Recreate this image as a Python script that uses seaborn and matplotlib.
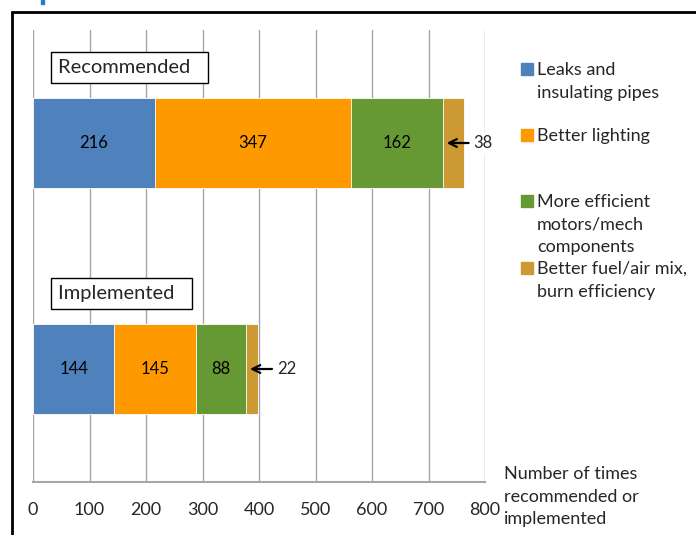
import pandas as pd
import matplotlib.pyplot as plt
import seaborn as sns
from matplotlib.lines import Line2D
from matplotlib.patches import Rectangle

# data
groups = ["Recommended", "Implemented"]
categories = ["Leaks and\ninsulating pipes", "Better lighting",
              "More efficient\nmotors/mech\ncomponents",
              "Better fuel/air mix,\nburn efficiency"]
leaks = [216, 144]
lighting = [347, 145]
motors = [162, 88]
fuel = [38, 22]
colors = ["#4F81BD", "#FF9900", "#669933", "#CC9933"]
xticks = [0, 100, 200, 300, 400, 500, 600, 700, 800]

sns.set_style("white")
plt.rcParams["font.family"] = ["Lato", "DejaVu Sans"]

df = pd.DataFrame({"group": groups, "leaks": leaks, "lighting": lighting,
                   "motors": motors, "fuel": fuel})
series = ["leaks", "lighting", "motors", "fuel"]
cum = df[series].cumsum(axis=1)

fig = plt.figure(figsize=(6.96, 5.35), dpi=100)
ax = fig.add_axes([33 / 696, 53 / 535, 452 / 696, 452 / 535])

# stacked bars: draw cumulative totals from the largest down
for s, c in reversed(list(zip(series, colors))):
    sns.barplot(x=cum[s], y=df["group"], orient="h", color=c, width=0.4,
                saturation=1, edgecolor="white", linewidth=0.6, ax=ax,
                zorder=2)

# value labels inside the first three segments
for i in range(len(groups)):
    start = 0
    for s in series[:3]:
        v = df.loc[i, s]
        ax.text(start + v / 2, i, str(v), ha="center", va="center",
                fontsize=12, color="black", zorder=4)
        start += v
    # small last segment: arrow plus label to the right
    v = df.loc[i, "fuel"]
    ax.annotate("", xy=(start + 7, i), xytext=(start + 46, i),
                arrowprops=dict(arrowstyle="->", color="black", lw=1.6,
                                mutation_scale=14, shrinkA=0, shrinkB=0),
                zorder=5)
    ax.text(start + 55, i, str(v), ha="left", va="center", fontsize=12,
            bbox=dict(facecolor="white", edgecolor="none", pad=2), zorder=4)
    # group name box above each bar
    ax.text(44, i - 0.335, groups[i] + "  ", ha="left", va="center",
            fontsize=14.5,
            bbox=dict(boxstyle="square,pad=0.36", facecolor="white",
                      edgecolor="black", linewidth=1), zorder=4)

ax.set_xlim(0, 800)
ax.set_ylim(1.5, -0.5)
ax.set_xticks(xticks)
ax.set_xticklabels([str(t) for t in xticks], fontsize=13)
ax.set_yticks([])
ax.set_xlabel("")
ax.set_ylabel("")
ax.grid(axis="x", color="#A6A6A6", linewidth=1)
ax.set_axisbelow(True)
for side in ["left", "top", "right"]:
    ax.spines[side].set_visible(False)
ax.spines["bottom"].set_color("#A6A6A6")
ax.spines["bottom"].set_linewidth(1.5)
ax.tick_params(axis="x", direction="out", length=6, width=1,
               color="#A6A6A6", pad=8.5)

fig.text(504 / 696, 1 - 466 / 535,
         "Number of times\nrecommended or\nimplemented",
         ha="left", va="top", fontsize=13, linespacing=1.5)

# legend drawn by hand so the squares sit on the first text line
legend_centers = [69, 135, 201, 268]
for lab, c, yc in zip(categories, colors, legend_centers):
    fig.patches.append(Rectangle((521 / 696, 1 - (yc + 6) / 535),
                                 12 / 696, 12 / 535, color=c,
                                 transform=fig.transFigure, figure=fig))
    fig.text(537 / 696, 1 - (yc - 7) / 535, lab, ha="left", va="top",
             fontsize=13, linespacing=1.5)

# black frame lines along top and left edge, plus the clipped blue mark
fig.add_artist(Line2D([12 / 696, 1], [1 - 12 / 535, 1 - 12 / 535],
                      color="black", linewidth=2, transform=fig.transFigure))
fig.add_artist(Line2D([12 / 696, 12 / 696], [0, 1 - 12 / 535],
                      color="black", linewidth=2, transform=fig.transFigure))
fig.patches.append(Rectangle((41 / 696, 1 - 4 / 535), 3 / 696, 4 / 535,
                             color="#2E75D6", transform=fig.transFigure,
                             figure=fig))

fig.savefig("out.png", dpi=100)
